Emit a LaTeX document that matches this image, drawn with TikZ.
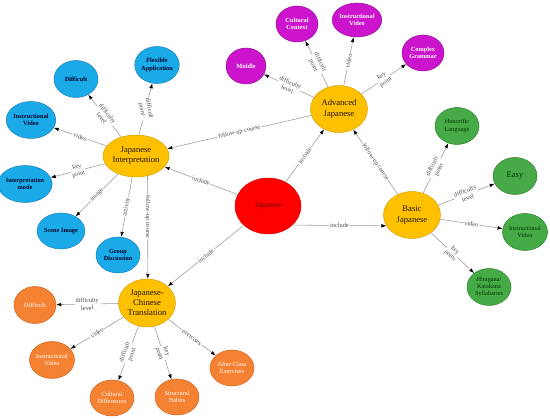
\documentclass[tikz,border=0pt]{standalone}
\usepackage{fontspec}
\setmainfont{Liberation Serif}
\usetikzlibrary{shapes.geometric,arrows.meta}
\definecolor{cblue}{HTML}{1AAAE8}
\definecolor{cblueb}{HTML}{1A7FBF}
\definecolor{cmag}{HTML}{CC14CC}
\definecolor{cmagb}{HTML}{9A109A}
\definecolor{cgreen}{HTML}{46AA46}
\definecolor{cgreenb}{HTML}{2E842E}
\definecolor{corange}{HTML}{F58232}
\definecolor{corangeb}{HTML}{D0651E}
\definecolor{cgold}{HTML}{FFC000}
\definecolor{cgoldb}{HTML}{D9A200}
\definecolor{cred}{HTML}{FF0000}
\definecolor{credb}{HTML}{E00000}
\definecolor{cline}{HTML}{9A9A9A}
\definecolor{clab}{HTML}{4A4A4A}
\begin{document}
\begin{tikzpicture}[x=1pt,y=-1pt,
  base/.style={ellipse,inner sep=0pt,align=center,line width=0.5pt},
  small/.style={base,minimum width=44pt,minimum height=37pt,font=\fontsize{6.3}{7.4}\selectfont},
  bluen/.style={small,fill=cblue,draw=cblueb,text=black!85!blue,font=\fontsize{6.3}{7.4}\selectfont\bfseries},
  magn/.style={small,fill=cmag,draw=cmagb,text=white,font=\fontsize{6.3}{7.4}\selectfont\bfseries},
  greenn/.style={small,fill=cgreen,draw=cgreenb,text=black!80!green},
  orangen/.style={small,fill=corange,draw=corangeb,text=white},
  goldn/.style={base,fill=cgold,draw=cgoldb,minimum width=57pt,minimum height=47pt,text=black!85!brown,font=\fontsize{8.6}{10.2}\selectfont},
  edge/.style={draw=cline,line width=0.55pt,-{Latex[length=5pt,width=3.6pt,color=black]}},
  lab/.style={font=\fontsize{6.3}{7.6}\selectfont,text=clab,fill=white,inner sep=0.8pt,align=center,sloped}
]
\useasboundingbox (0,0) rectangle (550,419);
\fill[white] (0,0) rectangle (550,419);

% main nodes
\node[base,fill=cred,draw=credb,minimum width=66pt,minimum height=56pt,text=black!60!red,font=\fontsize{7.5}{9}\selectfont] (J) at (268,206) {Japanese};
\node[goldn,minimum width=58pt,minimum height=42pt] (JI) at (136,156) {Japanese\\Interpretation};
\node[goldn] (AJ) at (339,109) {Advanced\\Japanese};
\node[goldn] (BJ) at (412,215) {Basic\\Japanese};
\node[goldn,minimum height=48pt] (JC) at (147,303) {Japanese-\\Chinese\\Translation};

% Japanese Interpretation leaves
\node[bluen] (b1) at (76,79) {Difficult};
\node[bluen] (b2) at (157,65) {Flexible\\Application};
\node[bluen] (b3) at (31,120) {Instructional\\Video};
\node[bluen] (b4) at (25,184) {Interpretation\\mode};
\node[bluen,minimum height=36pt] (b5) at (61,231) {Scene Image};
\node[bluen,minimum height=36pt] (b6) at (118,255) {Group\\Discussion};

% Advanced Japanese leaves
\node[magn,minimum width=40pt,minimum height=36pt] (m1) at (246,66) {Middle};
\node[magn,minimum width=42pt,minimum height=36pt] (m2) at (297,24) {Cultural\\Context};
\node[magn,minimum width=42pt,minimum height=34pt] (m3) at (357,20) {Instructional\\Video};
\node[magn,minimum width=42pt,minimum height=36pt] (m4) at (423,53) {Complex\\Grammar};

% Basic Japanese leaves
\node[greenn] (g1) at (457,126) {Honorific\\Language};
\node[greenn,font=\fontsize{8.5}{10}\selectfont] (g2) at (515,176) {Easy};
\node[greenn,minimum width=42pt] (g3) at (525,232) {Instructional\\Video};
\node[greenn] (g4) at (489,287) {Hiragana/\\Katakana\\Syllabaries};

% Japanese-Chinese Translation leaves
\node[orangen,minimum width=42pt] (o1) at (35,305) {Difficult};
\node[orangen] (o2) at (52,360) {Instructional\\Video};
\node[orangen,minimum height=36pt] (o3) at (112,398) {Cultural\\Differences};
\node[orangen,minimum height=36pt] (o4) at (177,397) {Structural\\Habits};
\node[orangen,minimum height=36pt] (o5) at (232,368) {After-Class\\Exercises};

% include edges
\draw[edge] (J) -- node[lab]{include} (JI);
\draw[edge] (J) -- node[lab]{include} (AJ);
\draw[edge] (J.-38) -- node[lab]{include} (BJ.203);
\draw[edge] (J) -- node[lab]{include} (JC);

% follow-up course
\draw[edge] (AJ) -- node[lab]{follow-up course} (JI);
\draw[edge] (BJ) -- node[lab]{follow-up course} (AJ);
\draw[edge] (JI.-60) -- node[lab,pos=0.4]{follow-up course} (JC.88);

% JI leaves
\draw[edge] (JI) -- node[lab]{difficulty\\level} (b1);
\draw[edge] (JI.82) -- node[lab,sloped=false,rotate=-79]{difficult\\point} (b2);
\draw[edge] (JI) -- node[lab]{video} (b3);
\draw[edge] (JI) -- node[lab]{key\\point} (b4);
\draw[edge] (JI) -- node[lab]{image} (b5);
\draw[edge] (JI) -- node[lab]{activity} (b6);

% AJ leaves
\draw[edge] (AJ) -- node[lab]{difficulty\\level} (m1);
\draw[edge] (AJ) -- node[lab]{difficult\\point} (m2);
\draw[edge] (AJ) -- node[lab]{video} (m3);
\draw[edge] (AJ) -- node[lab]{key\\point} (m4);

% BJ leaves
\draw[edge] (BJ) -- node[lab]{difficult\\point} (g1);
\draw[edge] (BJ) -- node[lab]{difficulty\\level} (g2);
\draw[edge] (BJ) -- node[lab]{video} (g3);
\draw[edge] (BJ) -- node[lab]{key\\point} (g4);

% JC leaves
\draw[edge] (JC) -- node[lab]{difficulty\\level} (o1);
\draw[edge] (JC) -- node[lab]{video} (o2);
\draw[edge] (JC) -- node[lab]{difficult\\point} (o3);
\draw[edge] (JC) -- node[lab]{key\\point} (o4);
\draw[edge] (JC) -- node[lab]{exercises} (o5);
\end{tikzpicture}
\end{document}
